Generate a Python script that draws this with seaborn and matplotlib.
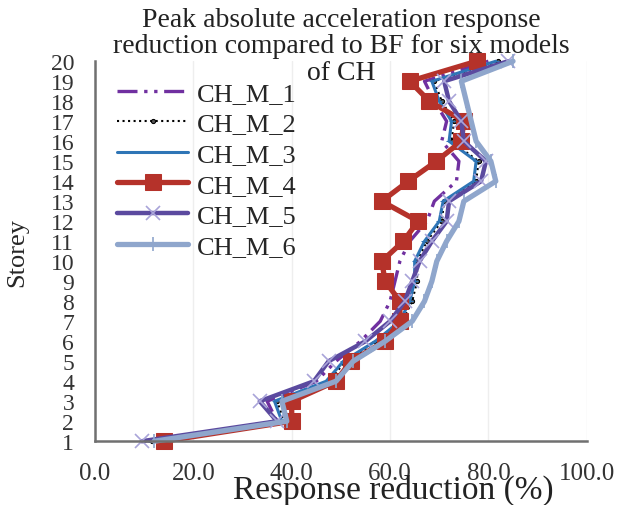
import numpy as np
import pandas as pd
import seaborn as sns
import matplotlib.pyplot as plt

# storey levels and the response reduction (%)
storeys = list(range(1, 21))
ch_m_1 = [11, 37, 35, 45, 49, 54, 58, 60, 61, 62, 64, 67.5, 69, 73.5, 74, 70.5, 71.5, 69, 67, 80]
ch_m_2 = [11.5, 38.5, 37, 47.5, 51, 57.5, 62.5, 64.5, 65.5, 65.5, 67.5, 70.5, 71, 77.5, 78, 72.5, 73, 70.5, 69, 82]
ch_m_3 = [11, 38, 36.5, 47, 50.5, 57, 62, 64, 65, 65, 67, 70, 70.8, 77, 77.5, 72, 72.5, 70, 68.5, 81.5]
ch_m_4 = [14, 40, 40, 49, 52, 59, 62, 62, 59, 58.3, 62.7, 65.7, 58.3, 63.7, 69.4, 74.5, 75, 68, 64, 77.6]
ch_m_5 = [9.5, 37, 33.5, 44.5, 47.5, 55, 60, 63, 64.5, 66, 68.5, 71.5, 72, 78.5, 79.5, 75, 74.5, 72, 71, 84]
ch_m_6 = [12, 39, 38, 49, 52.5, 59, 64.5, 67, 68.5, 69.5, 71.5, 74, 75, 81.5, 80.5, 77.5, 76.5, 75.5, 74.5, 85]
labels = ['CH_M_1', 'CH_M_2', 'CH_M_3', 'CH_M_4', 'CH_M_5', 'CH_M_6']
x_ticks = [0, 20, 40, 60, 80, 100]

sns.set_style('white')
plt.rcParams['font.family'] = ['Liberation Serif', 'DejaVu Serif']

fig = plt.figure(figsize=(6.17, 5.06), dpi=100)
ax = fig.add_axes([0.154, 0.126, 0.797, 0.751])

styles = [
    dict(color='#7030A0', lw=2.4, linestyle=(0, (6, 2, 1, 2, 1, 2)), marker=None),
    dict(color='black', lw=1.5, linestyle=':', marker='o', ms=3, mfc='#555555', mec='black'),
    dict(color='#2E75B6', lw=2.2, linestyle='-', marker='_', ms=5, mec='#2E75B6'),
    dict(color='#B5322A', lw=3.8, linestyle='-', marker='s', ms=11, mfc='#B5322A', mec='#B5322A'),
    dict(color='#5B4A9F', lw=3.2, linestyle='-', marker='x', ms=10, mew=1.2, mec='#A9A4D9'),
    dict(color='#8FA6CC', lw=3.8, linestyle='-', marker='|', ms=10, mew=1.2, mec='#8FA6CC'),
]
series = [ch_m_1, ch_m_2, ch_m_3, ch_m_4, ch_m_5, ch_m_6]

for vals, lab, st in zip(series, labels, styles):
    df = pd.DataFrame({'reduction': vals, 'storey': storeys})
    sns.lineplot(data=df, x='reduction', y='storey', orient='y', sort=False,
                 label=lab, ax=ax, clip_on=False, **st)

ax.set_xlim(0, 100)
ax.set_ylim(1, 20)
ax.set_xticks(x_ticks)
ax.set_xticklabels([f'{v:.1f}' for v in x_ticks], fontsize=18, color='#333333')
ax.set_yticks(storeys)
ax.set_yticklabels([str(s) for s in storeys], fontsize=17, color='#333333')
ax.tick_params(axis='y', direction='out', length=7, width=1.2, color='#555555', pad=8)
ax.tick_params(axis='x', direction='out', length=5, width=1.2, color='#555555', pad=10)
ax.xaxis.grid(True, color='#eeeeee', lw=1)
ax.yaxis.grid(False)
for s in ['top', 'right']:
    ax.spines[s].set_visible(False)
for s in ['left', 'bottom']:
    ax.spines[s].set_color('#707070')
    ax.spines[s].set_linewidth(1.8)

ax.set_ylabel('Storey', fontsize=19)
ax.yaxis.set_label_coords(-0.135, 0.5)
ax.set_xlabel('Response reduction (%)', fontsize=24, color='#222222')
ax.xaxis.set_label_coords(0.606, -0.085)

fig.text(0.553, 0.985, 'Peak absolute acceleration response\nreduction compared to BF for six models\nof CH',
         ha='center', va='top', fontsize=20, linespacing=1.08, color='#222222')

ax.legend(loc='upper left', bbox_to_anchor=(0.023, 0.975), frameon=False, fontsize=19,
          handlelength=2.7, labelspacing=0.27, handletextpad=0.34, borderaxespad=0)

fig.savefig('out.png', dpi=100)
